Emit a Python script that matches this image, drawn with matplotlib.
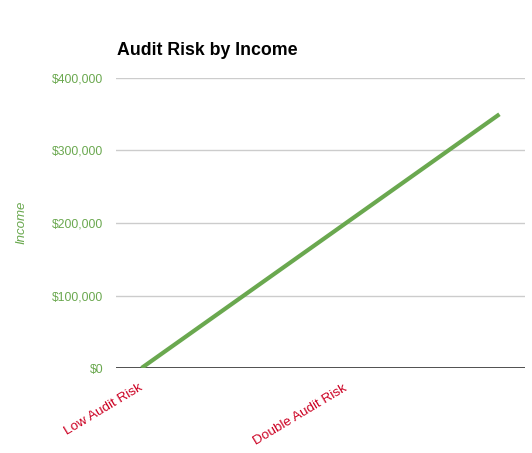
import matplotlib
matplotlib.use("Agg")
import matplotlib.pyplot as plt
from matplotlib.ticker import FuncFormatter

# data (only two category labels are shown)
categories = ["Low Audit Risk", "", "", "", "Double Audit Risk", "", "", ""]
income = [0, 50000, 100000, 150000, 200000, 250000, 300000, 350000]
yticks = [0, 100000, 200000, 300000, 400000]

green = "#6aa84f"
red = "#cc0022"

plt.rcParams['font.family'] = ['Liberation Sans', 'DejaVu Sans']

fig = plt.figure(figsize=(5.32, 4.53), dpi=100)
W, H = 532, 453
ax = fig.add_axes([116 / W, (H - 368) / H, (525 - 116) / W, (368 - 78) / H])

x = list(range(len(categories)))
ax.plot(x, income, color=green, linewidth=3, solid_capstyle='butt')

ax.set_xlim(-0.5, len(categories) - 0.5)
ax.set_ylim(0, 400000)
ax.set_yticks(yticks)
ax.yaxis.set_major_formatter(FuncFormatter(lambda v, p: "${:,.0f}".format(v)))
ax.grid(axis='y', color='#cccccc', linewidth=1)
ax.set_axisbelow(True)
ax.axhline(0, color='#333333', linewidth=1.2, zorder=1)

for s in ax.spines.values():
    s.set_visible(False)
ax.tick_params(axis='y', length=0, pad=9, labelsize=8.7, labelcolor=green)
ax.tick_params(axis='x', length=0)
ax.set_xticks(x)
ax.set_xticklabels([])

for i, lab in enumerate(categories):
    if lab:
        ax.annotate(lab, xy=(i, 0), xycoords=('data', 'data'),
                    xytext=(-2, -10), textcoords='offset points',
                    rotation=31, ha='right', va='top', rotation_mode='anchor',
                    color=red, fontsize=9.7)

fig.text(117 / W, (H - 55) / H, "Audit Risk by Income", fontsize=12.8,
         fontweight='bold', color='black', ha='left', va='baseline')
fig.text(21 / W, (H - 222) / H, "Income", rotation=90, fontstyle='italic',
         color=green, fontsize=9.5, ha='center', va='center')

fig.savefig("out.png", dpi=100)
